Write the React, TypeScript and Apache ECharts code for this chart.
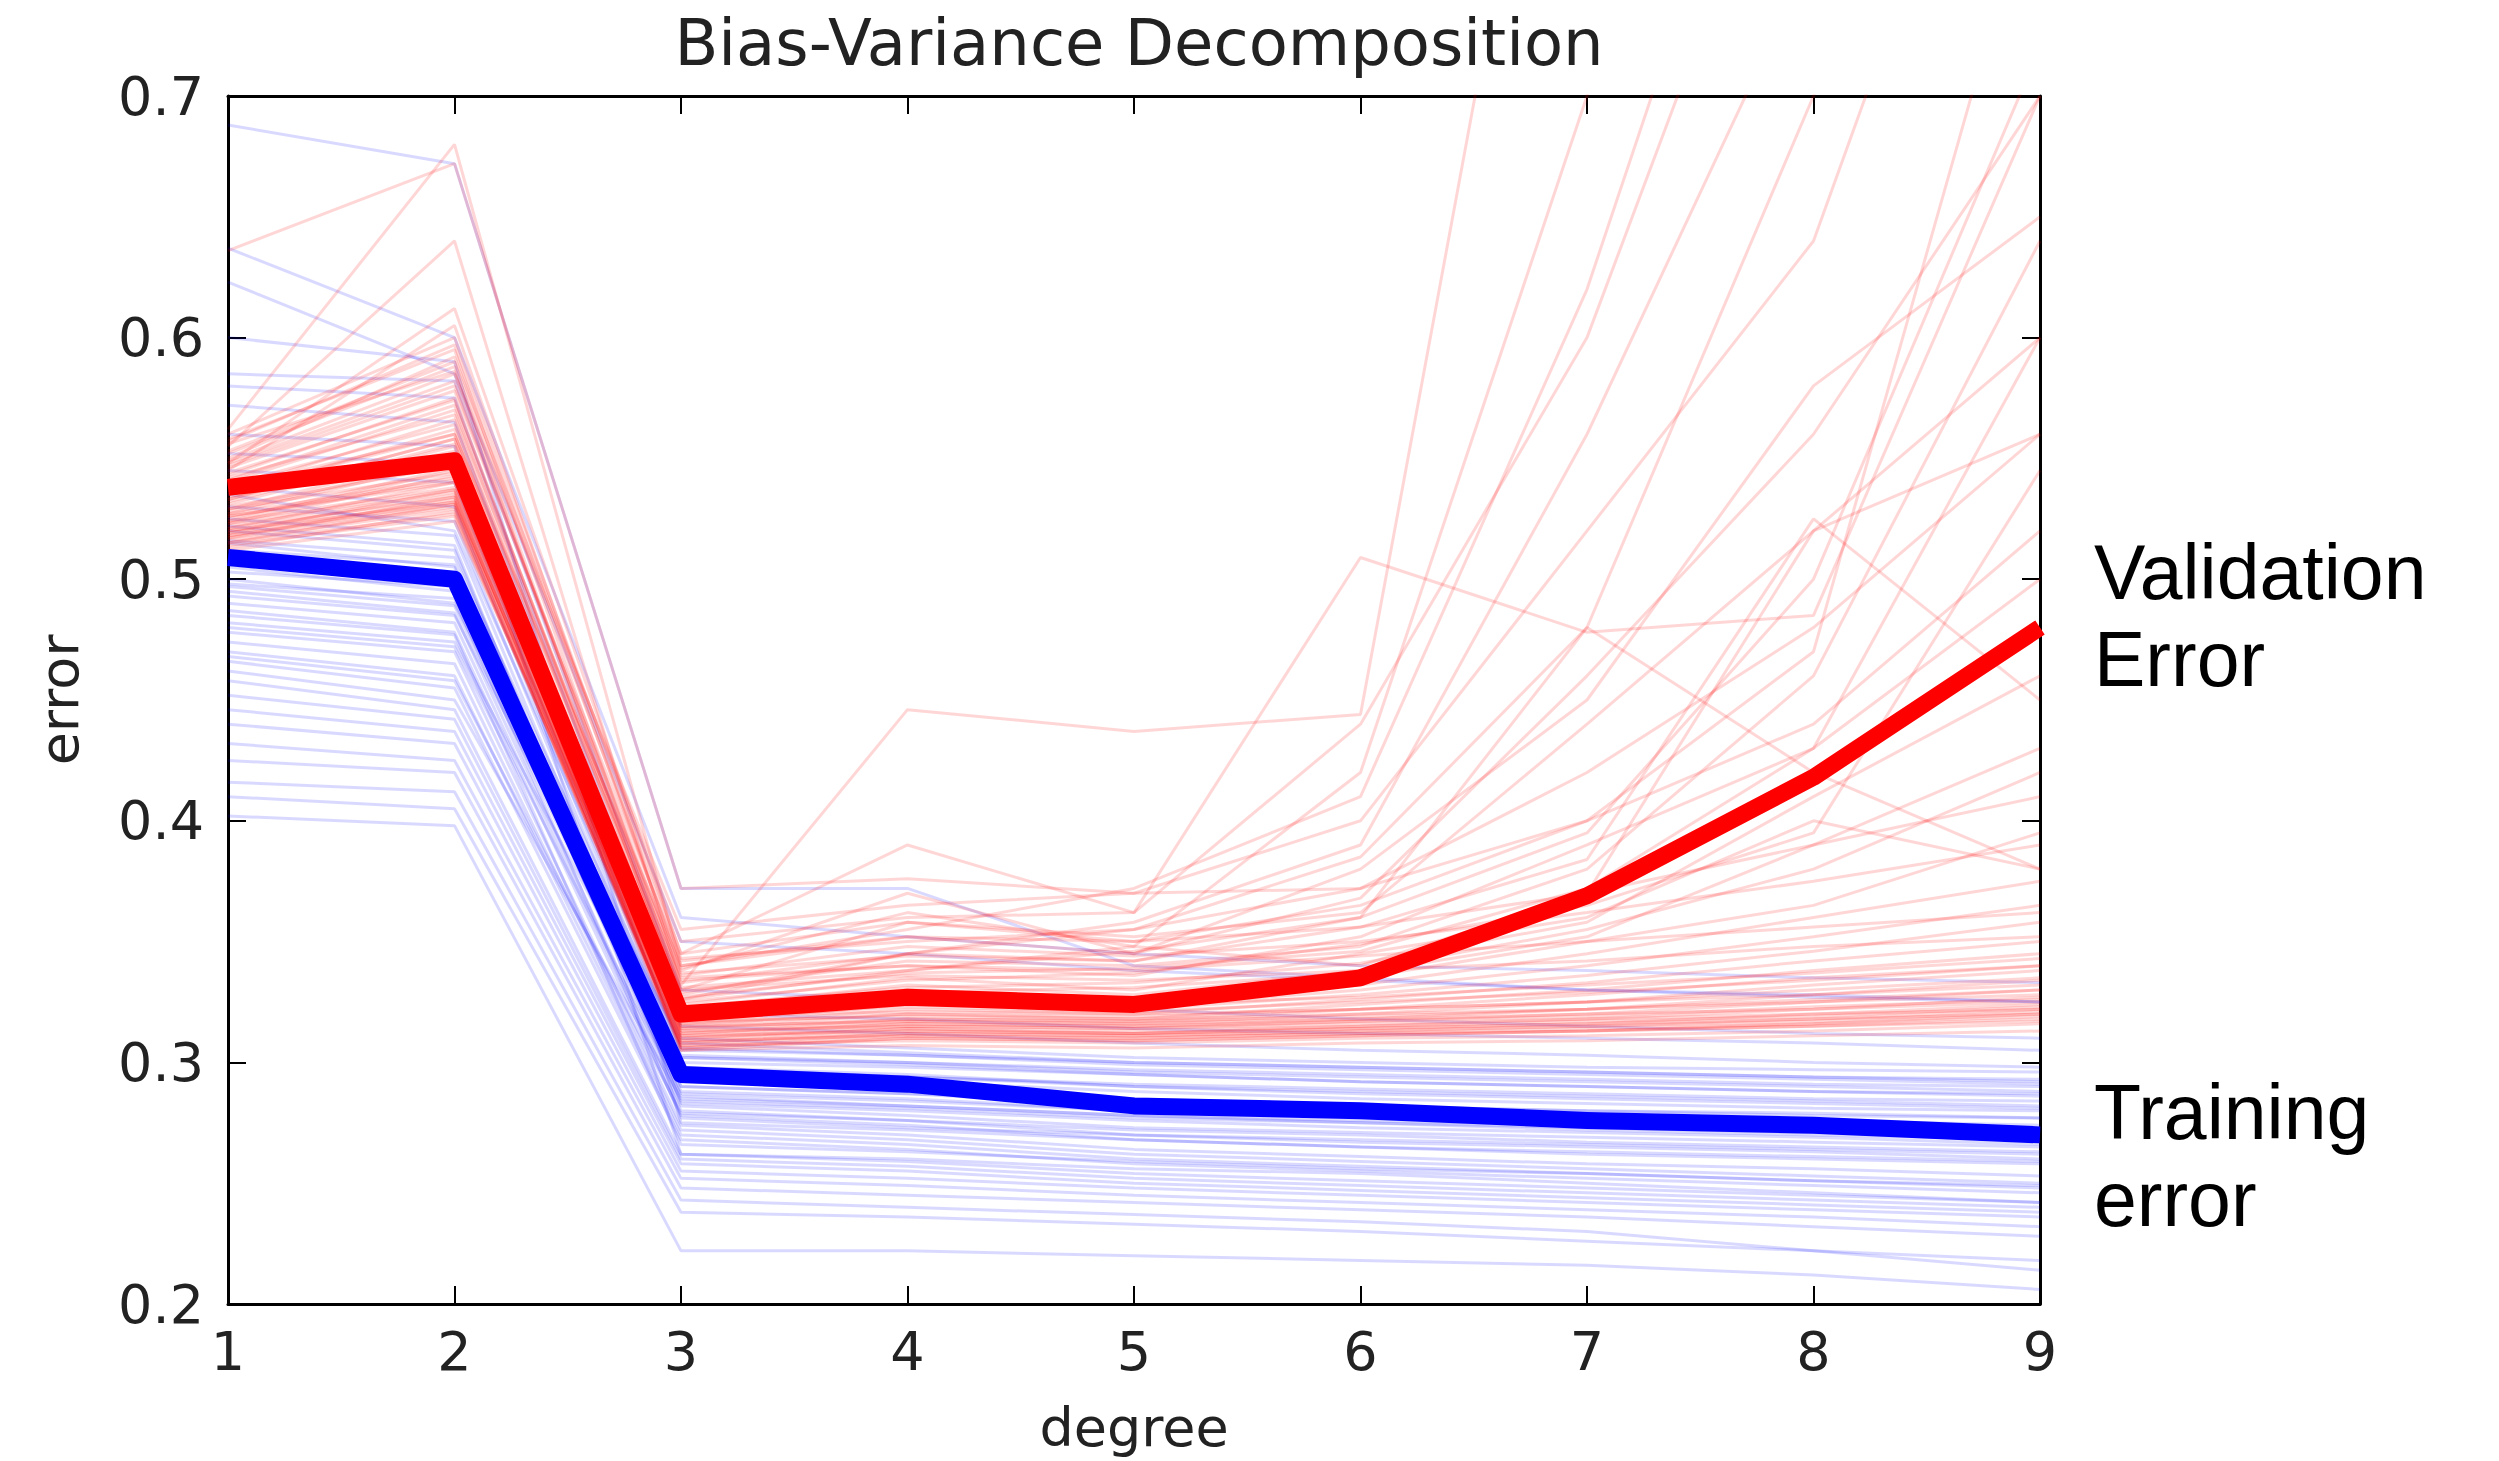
import React, { useEffect, useRef } from "react";
import * as echarts from "echarts";

// ---- data ----
const DEGREES = [1, 2, 3, 4, 5, 6, 7, 8, 9];
const X_TICKS = [1, 2, 3, 4, 5, 6, 7, 8, 9];
const Y_TICKS = [0.2, 0.3, 0.4, 0.5, 0.6, 0.7];

const VALIDATION_MEAN = [0.538, 0.549, 0.32, 0.327, 0.324, 0.335, 0.369, 0.418, 0.48];
const TRAINING_MEAN = [0.509, 0.5, 0.295, 0.291, 0.282, 0.28, 0.276, 0.274, 0.27];

const TRAINING_RUNS = [
  [0.688, 0.672, 0.372, 0.372, 0.34, 0.335, 0.33, 0.328, 0.325],
  [0.637, 0.6, 0.36, 0.352, 0.345, 0.34, 0.338, 0.335, 0.333],
  [0.623, 0.585, 0.35, 0.345, 0.338, 0.334, 0.33, 0.327, 0.325],
  [0.6, 0.59, 0.275, 0.272, 0.268, 0.265, 0.262, 0.26, 0.258],
  [0.585, 0.582, 0.33, 0.326, 0.322, 0.318, 0.315, 0.312, 0.31],
  [0.58, 0.575, 0.32, 0.318, 0.314, 0.312, 0.31, 0.308, 0.305],
  [0.572, 0.565, 0.315, 0.312, 0.308, 0.305, 0.303, 0.3, 0.298],
  [0.56, 0.555, 0.262, 0.26, 0.256, 0.254, 0.25, 0.246, 0.242],
  [0.552, 0.548, 0.305, 0.303, 0.3, 0.298, 0.296, 0.294, 0.292],
  [0.545, 0.54, 0.302, 0.3, 0.297, 0.295, 0.293, 0.291, 0.29],
  [0.538, 0.53, 0.3, 0.298, 0.295, 0.292, 0.29, 0.288, 0.286],
  [0.53, 0.524, 0.298, 0.295, 0.29, 0.288, 0.286, 0.284, 0.282],
  [0.525, 0.518, 0.295, 0.292, 0.288, 0.285, 0.283, 0.281, 0.28],
  [0.52, 0.512, 0.292, 0.29, 0.285, 0.282, 0.28, 0.278, 0.277],
  [0.515, 0.505, 0.29, 0.287, 0.282, 0.28, 0.278, 0.276, 0.274],
  [0.51, 0.5, 0.288, 0.285, 0.28, 0.278, 0.276, 0.274, 0.272],
  [0.505, 0.495, 0.286, 0.282, 0.278, 0.276, 0.274, 0.272, 0.27],
  [0.5, 0.49, 0.308, 0.304, 0.3, 0.298, 0.296, 0.294, 0.293],
  [0.495, 0.486, 0.282, 0.278, 0.273, 0.271, 0.269, 0.267, 0.265],
  [0.49, 0.482, 0.28, 0.276, 0.27, 0.268, 0.266, 0.264, 0.262],
  [0.487, 0.478, 0.278, 0.274, 0.268, 0.265, 0.263, 0.261, 0.259],
  [0.482, 0.474, 0.298, 0.294, 0.29, 0.287, 0.285, 0.283, 0.281],
  [0.478, 0.47, 0.274, 0.27, 0.264, 0.261, 0.258, 0.256, 0.253],
  [0.474, 0.465, 0.272, 0.268, 0.262, 0.259, 0.256, 0.253, 0.25],
  [0.47, 0.46, 0.27, 0.266, 0.26, 0.257, 0.254, 0.251, 0.248],
  [0.466, 0.455, 0.268, 0.264, 0.258, 0.255, 0.252, 0.249, 0.246],
  [0.462, 0.45, 0.285, 0.282, 0.278, 0.275, 0.272, 0.27, 0.268],
  [0.458, 0.446, 0.262, 0.259, 0.254, 0.251, 0.248, 0.245, 0.242],
  [0.452, 0.442, 0.26, 0.257, 0.252, 0.249, 0.246, 0.243, 0.24],
  [0.446, 0.437, 0.258, 0.255, 0.25, 0.247, 0.244, 0.241, 0.238],
  [0.44, 0.432, 0.255, 0.252, 0.248, 0.245, 0.242, 0.239, 0.236],
  [0.432, 0.425, 0.252, 0.249, 0.245, 0.242, 0.239, 0.236, 0.232],
  [0.425, 0.42, 0.248, 0.245, 0.242, 0.239, 0.236, 0.232, 0.228],
  [0.416, 0.412, 0.243, 0.24, 0.237, 0.234, 0.23, 0.222, 0.214],
  [0.41, 0.405, 0.238, 0.236, 0.233, 0.23, 0.226, 0.222, 0.218],
  [0.402, 0.398, 0.222, 0.222, 0.22, 0.218, 0.216, 0.212, 0.206],
  [0.535, 0.52, 0.31, 0.306, 0.302, 0.3, 0.298, 0.297, 0.296],
  [0.512, 0.506, 0.303, 0.3, 0.296, 0.294, 0.292, 0.29, 0.288],
  [0.497, 0.489, 0.29, 0.287, 0.284, 0.282, 0.28, 0.279, 0.277],
  [0.522, 0.514, 0.283, 0.28, 0.276, 0.273, 0.271, 0.269, 0.266],
  [0.516, 0.509, 0.306, 0.303, 0.299, 0.297, 0.295, 0.293, 0.291],
  [0.508, 0.502, 0.297, 0.294, 0.291, 0.289, 0.287, 0.285, 0.284],
  [0.503, 0.497, 0.284, 0.281, 0.277, 0.275, 0.273, 0.271, 0.269],
  [0.498, 0.492, 0.277, 0.273, 0.27, 0.267, 0.265, 0.263, 0.26],
  [0.493, 0.485, 0.302, 0.299, 0.295, 0.292, 0.29, 0.288, 0.287],
  [0.485, 0.477, 0.266, 0.263, 0.259, 0.256, 0.254, 0.251, 0.249],
  [0.48, 0.472, 0.287, 0.284, 0.28, 0.278, 0.275, 0.273, 0.272],
  [0.468, 0.458, 0.279, 0.276, 0.272, 0.27, 0.267, 0.265, 0.263],
];

const VALIDATION_RUNS = [
  [0.636, 0.672, 0.372, 0.376, 0.37, 0.372, 0.4, 0.44, 0.52],
  [0.555, 0.64, 0.332, 0.446, 0.437, 0.444, 0.95, 1.3, 1.6],
  [0.548, 0.612, 0.345, 0.39, 0.362, 0.509, 0.478, 0.485, 0.7],
  [0.562, 0.68, 0.34, 0.355, 0.372, 0.41, 0.62, 0.9, 1.2],
  [0.545, 0.605, 0.338, 0.37, 0.345, 0.38, 0.45, 0.58, 0.65],
  [0.558, 0.595, 0.33, 0.358, 0.35, 0.365, 0.4, 0.47, 0.8],
  [0.552, 0.588, 0.328, 0.345, 0.342, 0.36, 0.48, 0.7, 1.0],
  [0.548, 0.582, 0.335, 0.34, 0.336, 0.352, 0.39, 0.43, 0.6],
  [0.543, 0.575, 0.326, 0.338, 0.348, 0.34, 0.37, 0.52, 0.56],
  [0.54, 0.57, 0.324, 0.335, 0.33, 0.345, 0.36, 0.4, 0.38],
  [0.537, 0.566, 0.322, 0.332, 0.328, 0.338, 0.355, 0.38, 0.42],
  [0.535, 0.562, 0.32, 0.33, 0.326, 0.335, 0.35, 0.365, 0.395],
  [0.533, 0.558, 0.318, 0.328, 0.325, 0.332, 0.345, 0.36, 0.375],
  [0.531, 0.555, 0.317, 0.326, 0.323, 0.33, 0.34, 0.352, 0.365],
  [0.529, 0.552, 0.316, 0.324, 0.322, 0.328, 0.336, 0.346, 0.358],
  [0.527, 0.549, 0.315, 0.322, 0.32, 0.326, 0.333, 0.342, 0.35],
  [0.525, 0.546, 0.314, 0.32, 0.318, 0.324, 0.33, 0.338, 0.345],
  [0.523, 0.543, 0.313, 0.318, 0.317, 0.322, 0.328, 0.335, 0.34],
  [0.521, 0.54, 0.312, 0.317, 0.316, 0.32, 0.325, 0.332, 0.338],
  [0.519, 0.537, 0.311, 0.316, 0.315, 0.318, 0.322, 0.328, 0.334],
  [0.517, 0.534, 0.31, 0.315, 0.314, 0.317, 0.32, 0.325, 0.33],
  [0.515, 0.531, 0.309, 0.314, 0.313, 0.315, 0.318, 0.322, 0.327],
  [0.513, 0.528, 0.308, 0.313, 0.312, 0.314, 0.316, 0.32, 0.324],
  [0.52, 0.535, 0.307, 0.312, 0.311, 0.313, 0.315, 0.318, 0.322],
  [0.526, 0.541, 0.306, 0.311, 0.31, 0.312, 0.314, 0.316, 0.32],
  [0.53, 0.547, 0.305, 0.31, 0.309, 0.311, 0.313, 0.315, 0.318],
  [0.534, 0.553, 0.33, 0.336, 0.334, 0.338, 0.342, 0.348, 0.352],
  [0.538, 0.56, 0.334, 0.34, 0.338, 0.344, 0.35, 0.356, 0.362],
  [0.542, 0.568, 0.336, 0.348, 0.344, 0.35, 0.362, 0.375, 0.39],
  [0.546, 0.578, 0.342, 0.352, 0.35, 0.356, 0.37, 0.39, 0.41],
  [0.56, 0.6, 0.345, 0.358, 0.352, 0.362, 0.44, 0.52, 0.6],
  [0.55, 0.592, 0.35, 0.36, 0.362, 0.44, 0.6, 0.85, 1.1],
  [0.556, 0.586, 0.326, 0.345, 0.355, 0.372, 0.42, 0.48, 0.56],
  [0.544, 0.574, 0.329, 0.342, 0.34, 0.348, 0.38, 0.46, 0.64],
  [0.539, 0.564, 0.331, 0.338, 0.346, 0.36, 0.395, 0.5, 0.72],
  [0.532, 0.556, 0.327, 0.337, 0.339, 0.346, 0.372, 0.43, 0.5],
  [0.528, 0.55, 0.323, 0.331, 0.333, 0.341, 0.358, 0.41, 0.46],
  [0.524, 0.545, 0.321, 0.329, 0.331, 0.337, 0.352, 0.39, 0.43],
  [0.536, 0.56, 0.34, 0.352, 0.345, 0.368, 0.46, 0.56, 0.7],
  [0.549, 0.585, 0.355, 0.365, 0.37, 0.4, 0.52, 0.64, 0.9],
  [0.541, 0.572, 0.333, 0.345, 0.358, 0.39, 0.56, 0.76, 0.85],
  [0.557, 0.597, 0.339, 0.362, 0.348, 0.42, 0.7, 0.98, 1.3],
  [0.553, 0.59, 0.343, 0.35, 0.355, 0.385, 0.48, 0.42, 0.38],
  [0.547, 0.58, 0.337, 0.344, 0.342, 0.356, 0.384, 0.525, 0.45],
  [0.533, 0.558, 0.325, 0.334, 0.337, 0.349, 0.365, 0.395, 0.545],
  [0.518, 0.532, 0.306, 0.31, 0.309, 0.311, 0.313, 0.316, 0.319],
  [0.516, 0.529, 0.308, 0.312, 0.311, 0.313, 0.315, 0.317, 0.321],
  [0.522, 0.536, 0.31, 0.314, 0.312, 0.315, 0.317, 0.319, 0.323],
  [0.514, 0.526, 0.312, 0.316, 0.315, 0.317, 0.319, 0.323, 0.326],
  [0.519, 0.533, 0.314, 0.318, 0.317, 0.319, 0.322, 0.326, 0.33],
  [0.524, 0.538, 0.316, 0.32, 0.319, 0.322, 0.325, 0.33, 0.335],
  [0.527, 0.542, 0.318, 0.323, 0.321, 0.325, 0.329, 0.334, 0.34],
  [0.512, 0.524, 0.319, 0.325, 0.324, 0.327, 0.332, 0.337, 0.343],
  [0.517, 0.53, 0.305, 0.307, 0.306, 0.308, 0.309, 0.311, 0.313],
  [0.521, 0.534, 0.307, 0.309, 0.308, 0.31, 0.311, 0.313, 0.316],
  [0.515, 0.527, 0.309, 0.311, 0.31, 0.312, 0.313, 0.315, 0.317],
  [0.523, 0.537, 0.311, 0.313, 0.312, 0.314, 0.316, 0.318, 0.32],
  [0.518, 0.531, 0.313, 0.315, 0.314, 0.316, 0.318, 0.32, 0.322],
  [0.526, 0.54, 0.315, 0.317, 0.316, 0.318, 0.32, 0.322, 0.325],
  [0.52, 0.532, 0.317, 0.319, 0.318, 0.32, 0.322, 0.325, 0.328],
  [0.529, 0.544, 0.319, 0.321, 0.32, 0.322, 0.325, 0.328, 0.332],
];

const TITLE = "Bias-Variance Decomposition";
const X_NAME = "degree";
const Y_NAME = "error";
const VALIDATION_LABEL = ["Validation", "Error"];
const TRAINING_LABEL = ["Training", "error"];

const toPoints = (vals: number[]) => DEGREES.map((d, i) => [d, vals[i]]);

export default function App() {
  const ref = useRef<HTMLDivElement>(null);

  useEffect(() => {
    document.body.style.margin = "0";
    if (!ref.current) return;
    const chart = echarts.init(ref.current, undefined, { renderer: "svg" });

    const gridLeft = 228;
    const gridTop = 96;
    const gridRight = 459;
    const gridBottom = 157;
    const axisFont = "DejaVu Sans";
    const tickColor = "#222";

    const faint = (vals: number[], color: string) => ({
      type: "line",
      data: toPoints(vals),
      showSymbol: false,
      symbol: "none",
      silent: true,
      lineStyle: { color, width: 3 },
      z: 2,
    });

    const series: any[] = [
      ...TRAINING_RUNS.map((r) => faint(r, "rgba(0,0,255,0.15)")),
      ...VALIDATION_RUNS.map((r) => faint(r, "rgba(255,0,0,0.16)")),
      {
        type: "line",
        data: toPoints(VALIDATION_MEAN),
        showSymbol: false,
        symbol: "none",
        lineStyle: { color: "#ff0000", width: 17, join: "round" },
        z: 5,
      },
      {
        type: "line",
        data: toPoints(TRAINING_MEAN),
        showSymbol: false,
        symbol: "none",
        lineStyle: { color: "#0000ff", width: 17, join: "round" },
        z: 5,
      },
    ];

    const axisLine = { show: true, onZero: false, lineStyle: { color: "#000", width: 3 } };
    const axisTick = { show: true, inside: true, length: 18, lineStyle: { color: "#000", width: 2 } };

    const labelText = (text: string, top: number) => ({
      type: "text",
      left: 2094,
      top,
      style: { text, font: '77px "Liberation Sans"', fill: "#000" },
    });

    chart.setOption({
      animation: false,
      backgroundColor: "#fff",
      title: {
        text: TITLE,
        left: gridLeft + (2499 - gridLeft - gridRight) / 2,
        textAlign: "center",
        top: 6,
        textStyle: { fontFamily: axisFont, fontSize: 64, fontWeight: "normal", color: "#222" },
      },
      grid: { left: gridLeft, top: gridTop, right: gridRight, bottom: gridBottom, containLabel: false },
      xAxis: [
        {
          type: "value",
          min: X_TICKS[0],
          max: X_TICKS[X_TICKS.length - 1],
          interval: 1,
          position: "bottom",
          name: X_NAME,
          nameLocation: "middle",
          nameGap: 96,
          nameTextStyle: { fontFamily: axisFont, fontSize: 54, color: tickColor },
          axisLine,
          axisTick,
          splitLine: { show: false },
          axisLabel: { fontFamily: axisFont, fontSize: 54, color: tickColor, margin: 20 },
        },
        {
          type: "value",
          min: X_TICKS[0],
          max: X_TICKS[X_TICKS.length - 1],
          interval: 1,
          position: "top",
          axisLine,
          axisTick,
          splitLine: { show: false },
          axisLabel: { show: false },
        },
      ],
      yAxis: [
        {
          type: "value",
          min: Y_TICKS[0],
          max: Y_TICKS[Y_TICKS.length - 1],
          interval: 0.1,
          position: "left",
          name: Y_NAME,
          nameLocation: "middle",
          nameGap: 142,
          nameTextStyle: { fontFamily: axisFont, fontSize: 54, color: tickColor },
          axisLine,
          axisTick,
          splitLine: { show: false },
          axisLabel: {
            fontFamily: axisFont,
            fontSize: 54,
            color: tickColor,
            margin: 24,
            formatter: (v: number) => v.toFixed(1),
          },
        },
        {
          type: "value",
          min: Y_TICKS[0],
          max: Y_TICKS[Y_TICKS.length - 1],
          interval: 0.1,
          position: "right",
          axisLine,
          axisTick,
          splitLine: { show: false },
          axisLabel: { show: false },
        },
      ],
      series,
      graphic: [
        labelText(VALIDATION_LABEL[0], 533),
        labelText(VALIDATION_LABEL[1], 620),
        labelText(TRAINING_LABEL[0], 1073),
        labelText(TRAINING_LABEL[1], 1160),
      ],
    });

    return () => chart.dispose();
  }, []);

  return <div ref={ref} style={{ width: 2499, height: 1461 }} />;
}
